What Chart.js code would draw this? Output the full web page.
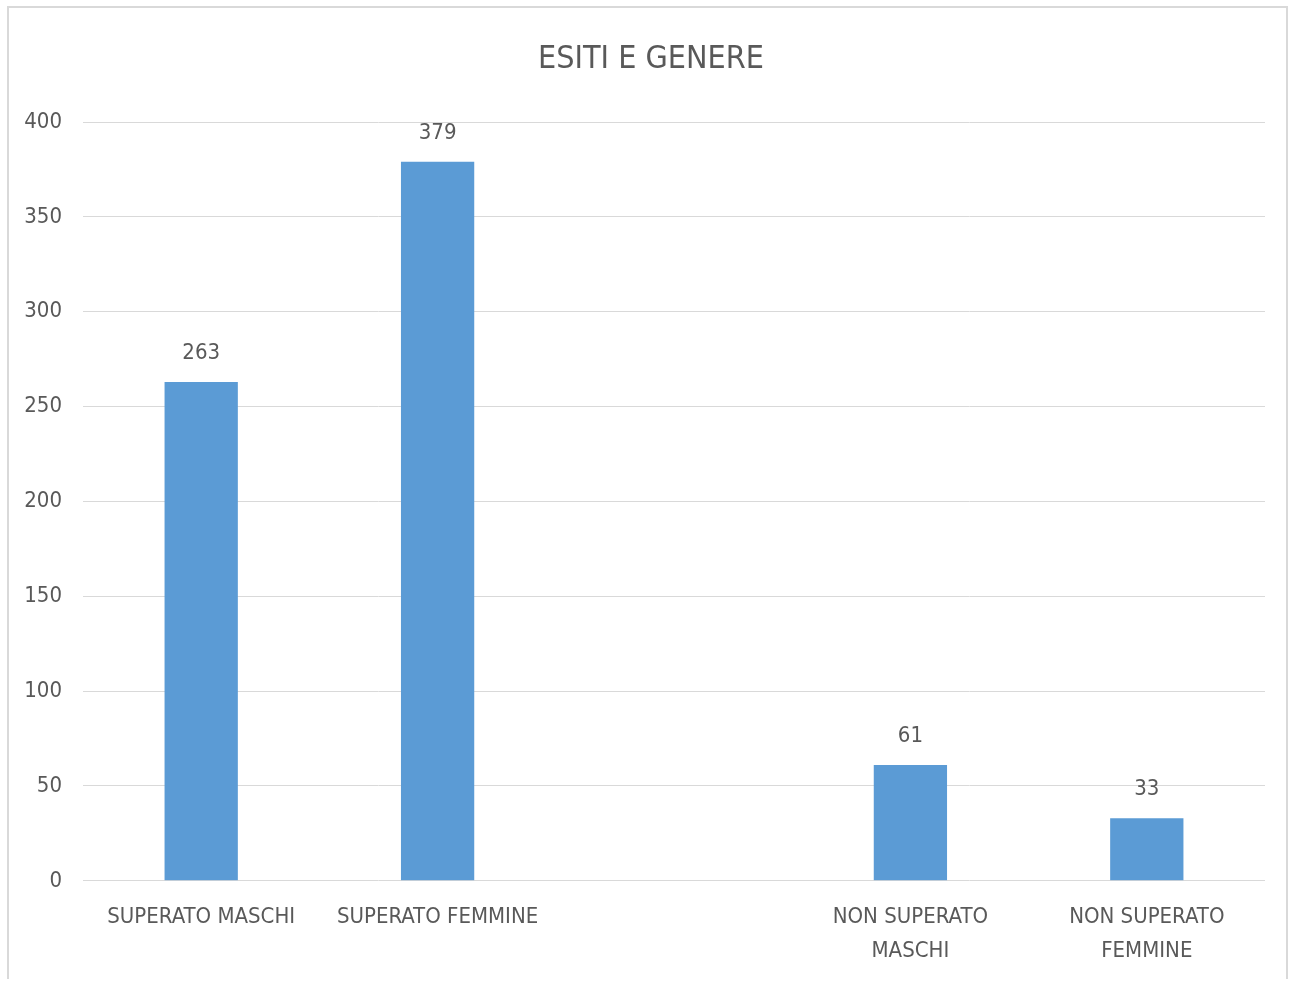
<!DOCTYPE html>
<html>
<head>
<meta charset="utf-8">
<script src="https://cdn.jsdelivr.net/npm/chart.js@4.4.1/dist/chart.umd.min.js"></script>
<style>
  html, body { margin: 0; padding: 0; background: #fff; }
  #wrap { position: relative; width: 1292px; height: 983px; }
  #frame { position: absolute; left: 7px; top: 6px; width: 1281px; height: 973px; border: 2px solid #d9d9d9; box-sizing: border-box; border-bottom: none; }
</style>
</head>
<body>
<div id="wrap">
  <div id="frame"></div>
  <canvas id="chart"></canvas>
</div>
<script>
// chart data
const chartTitle = 'ESITI E GENERE';
const categories = [
	['SUPERATO MASCHI'],
	['SUPERATO FEMMINE'],
	[''],
	['NON SUPERATO', 'MASCHI'],
	['NON SUPERATO', 'FEMMINE']
];
const values = [263, 379, null, 61, 33];
const yTicks = [0, 50, 100, 150, 200, 250, 300, 350, 400];

const fontFam = "'Liberation Sans Narrow', 'DejaVu Sans Condensed', 'Roboto Condensed', sans-serif";
const textColor = '#595959';

// value labels above bars + the title (centred on the frame, not the chart area)
const barLabels = {
	id: 'barLabels',
	afterDatasetsDraw(chart) {
		const ctx = chart.ctx;
		const meta = chart.getDatasetMeta(0);
		ctx.save();
		ctx.font = '22px ' + fontFam;
		ctx.fillStyle = textColor;
		ctx.textAlign = 'center';
		ctx.textBaseline = 'middle';
		meta.data.forEach((bar, i) => {
			if (values[i] == null) return;
			ctx.fillText(String(values[i]), bar.x, bar.y - 29);
		});
		ctx.font = '32px ' + fontFam;
		ctx.fillText(chartTitle, 651, 60);
		ctx.restore();
	}
};

const ctx = document.getElementById('chart');
new Chart(ctx, {
	type: 'bar',
	data: {
		labels: categories,
		datasets: [{
			data: values,
			backgroundColor: '#5b9bd5',
			categoryPercentage: 1,
			barPercentage: 0.31
		}]
	},
	options: {
		responsive: true,
		maintainAspectRatio: false,
		animation: false,
		layout: { padding: { left: 0, right: 27, top: 122, bottom: -4 } },
		plugins: {
			legend: { display: false },
			tooltip: { enabled: false },
			title: { display: false }
		},
		scales: {
			x: {
				grid: { display: false, drawTicks: false },
				border: { display: false },
				ticks: {
					color: textColor,
					font: { family: fontFam, size: 22, lineHeight: 1.55 },
					padding: 19,
					maxRotation: 0,
					autoSkip: false
				}
			},
			y: {
				min: 0,
				max: 400,
				afterBuildTicks(axis) {
					axis.ticks = yTicks.map(v => ({ value: v }));
				},
				afterFit(axis) { axis.width = 83; },
				grid: { color: '#d9d9d9', lineWidth: 1, drawTicks: false },
				border: { display: false },
				ticks: {
					color: textColor,
					font: { family: fontFam, size: 22 },
					padding: 21
				}
			}
		}
	},
	plugins: [barLabels]
});
</script>
</body>
</html>
